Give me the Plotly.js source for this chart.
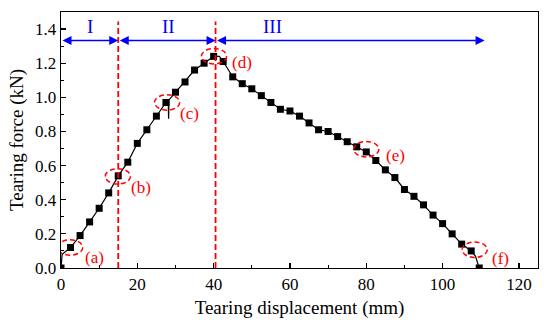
<!DOCTYPE html>
<html>
<head>
<meta charset="utf-8">
<script src="https://cdn.plot.ly/plotly-3.0.1.min.js"></script>
<style>html,body{margin:0;padding:0;background:#fff}#chart{width:550px;height:325px}</style>
</head>
<body>
<div id="chart"></div>
<script>
// Marker samples of the tearing curve
const markX = [0, 2.5, 5, 7.5, 10, 12.5, 15, 17.5, 20, 22.5, 25, 27.5, 30, 32.5, 35, 37.5, 40,
  42.5, 45, 47.5, 50, 52.5, 55, 57.5, 60, 62.5, 65, 67.5, 70, 72.5, 75, 77.5, 80,
  82.5, 85, 87.5, 90, 92.5, 95, 97.5, 100, 102.5, 105, 107.5, 109.6];
const markY = [0.0, 0.12, 0.19, 0.27, 0.35, 0.44, 0.54, 0.62, 0.73, 0.81, 0.89, 0.97, 1.03, 1.09, 1.16, 1.20, 1.24,
  1.21, 1.12, 1.08, 1.05, 1.01, 0.97, 0.93, 0.92, 0.89, 0.85, 0.81, 0.80, 0.77, 0.74, 0.71, 0.68,
  0.63, 0.575, 0.53, 0.46, 0.42, 0.37, 0.31, 0.26, 0.20, 0.14, 0.10, 0.0];
// Extra points of the continuous curve read between markers
const extraX = [0.3, 28.1, 28.2, 28.3, 41.5, 108.6];
const extraY = [0.08, 0.975, 0.875, 0.985, 1.24, 0.07];

// Region boundaries and labels
const boundX = [15, 40.5];
const regionLabels = ['I', 'II', 'III'];
const regionSpans = [[0, 15], [15, 40.5], [40.5, 111]];
const regionLabelX = [7.5, 28.2, 55.5];
const regionY = 1.333;

// Highlighted points
const circLabels = ['(a)', '(b)', '(c)', '(d)', '(e)', '(f)'];
const circX = [2.4, 14.9, 27.8, 40.1, 80.0, 108.4];
const circY = [0.12, 0.537, 0.97, 1.241, 0.696, 0.107];
const circLabelX = [8.9, 21.0, 33.8, 47.5, 87.6, 115.3];
const circLabelY = [0.06, 0.47, 0.907, 1.206, 0.662, 0.055];

const xTicks = [0, 20, 40, 60, 80, 100, 120];
const yTicks = [0.0, 0.2, 0.4, 0.6, 0.8, 1.0, 1.2, 1.4];

// build continuous curve
const pts = markX.map((x, i) => [x, markY[i]]).concat(extraX.map((x, i) => [x, extraY[i]]));
pts.sort((a, b) => a[0] - b[0]);
const curveX = pts.map(p => p[0]);
const curveY = pts.map(p => p[1]);

const serif = 'Liberation Serif, Times New Roman, serif';
const red = '#ff0000';
const blue = '#0000ff';

const traces = [
  {x: curveX, y: curveY, mode: 'lines', line: {color: '#000', width: 1.2}, hoverinfo: 'skip', showlegend: false},
  {x: markX, y: markY, mode: 'markers', marker: {symbol: 'square', size: 7, color: '#000'}, showlegend: false}
];

const shapes = [];
boundX.forEach(x => shapes.push({type: 'line', xref: 'x', yref: 'y', x0: x, x1: x, y0: 0, y1: 1.445,
  line: {color: red, width: 1.8, dash: '6px,3px'}}));
circX.forEach((cx, i) => shapes.push({type: 'circle', xref: 'x', yref: 'y',
  x0: cx - 3.3, x1: cx + 3.3, y0: circY[i] - 0.045, y1: circY[i] + 0.045,
  line: {color: red, width: 1.5, dash: '5px,3px'}}));

const annotations = [];
regionSpans.forEach((s, i) => {
  annotations.push({x: s[1], y: regionY, ax: s[0], ay: regionY, xref: 'x', yref: 'y', axref: 'x', ayref: 'y',
    text: '', showarrow: true, arrowside: 'end+start', arrowhead: 2, arrowsize: 1.2, arrowwidth: 1.5, arrowcolor: blue,
    standoff: 0, startstandoff: 0});
  annotations.push({x: regionLabelX[i], y: 1.415, xref: 'x', yref: 'y', text: regionLabels[i],
    showarrow: false, font: {family: serif, size: 19, color: blue}});
});
circLabels.forEach((t, i) => annotations.push({x: circLabelX[i], y: circLabelY[i], xref: 'x', yref: 'y', text: t,
  showarrow: false, font: {family: serif, size: 17, color: red}}));

const layout = {
  width: 550, height: 325,
  margin: {l: 61, r: 12, t: 12, b: 57},
  paper_bgcolor: '#fff', plot_bgcolor: '#fff',
  font: {family: serif, size: 17, color: '#000'},
  showlegend: false,
  xaxis: {range: [0, 125], tickvals: xTicks, ticks: 'inside', ticklen: 5, tickwidth: 1.2, tickcolor: '#000',
    minor: {dtick: 10, ticks: 'inside', ticklen: 3, tickwidth: 1, tickcolor: '#000'},
    showgrid: false, zeroline: false, showline: true, linecolor: '#000', linewidth: 1.3, mirror: true,
    tickfont: {family: serif, size: 17},
    title: {text: 'Tearing displacement (mm)', font: {family: serif, size: 19}, standoff: 8}},
  yaxis: {range: [0, 1.5], tickvals: yTicks, ticktext: yTicks.map(v => v.toFixed(1)), ticks: 'inside', ticklen: 5, tickwidth: 1.2, tickcolor: '#000',
    minor: {dtick: 0.1, ticks: 'inside', ticklen: 3, tickwidth: 1, tickcolor: '#000'},
    showgrid: false, zeroline: false, showline: true, linecolor: '#000', linewidth: 1.3, mirror: true,
    tickfont: {family: serif, size: 17},
    title: {text: 'Tearing force (kN)', font: {family: serif, size: 19}, standoff: 6}},
  shapes: shapes,
  annotations: annotations
};

Plotly.newPlot('chart', traces, layout, {staticPlot: true, displayModeBar: false});
</script>
</body>
</html>
